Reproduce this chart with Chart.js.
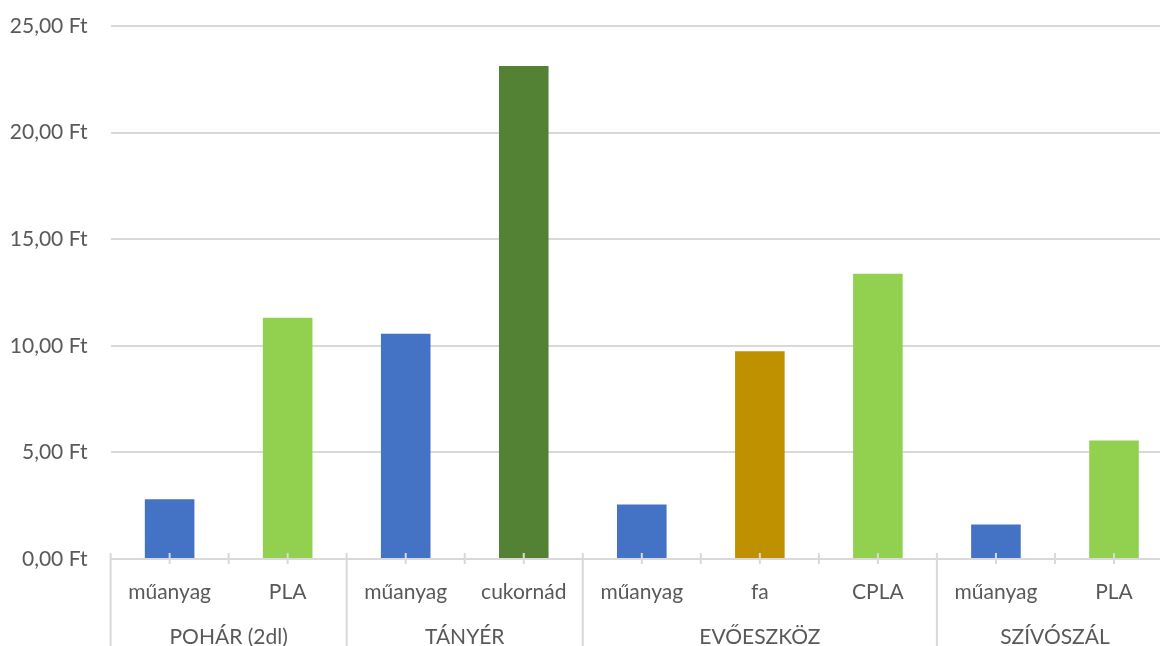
<!DOCTYPE html>
<html>
<head>
<meta charset="utf-8">
<script src="https://cdn.jsdelivr.net/npm/chart.js@4.4.1/dist/chart.umd.min.js"></script>
<style>
  html, body { margin: 0; padding: 0; background: #fff; overflow: hidden; }
  #wrap { width: 1173px; height: 646px; }
</style>
</head>
<body>
<div id="wrap"><canvas id="c" width="1173" height="646"></canvas></div>
<script>
// Unit prices (Ft / piece) of single-use items by material
const categories = ['műanyag', 'PLA', 'műanyag', 'cukornád', 'műanyag', 'fa', 'CPLA', 'műanyag', 'PLA'];
const groups = ['POHÁR (2dl)', 'TÁNYÉR', 'EVŐESZKÖZ', 'SZÍVÓSZÁL'];
const groupSizes = [2, 2, 3, 2];
const prices = [2.80, 11.31, 10.56, 23.12, 2.56, 9.75, 13.38, 1.62, 5.56];
const yMin = 0, yMax = 25, yStep = 5;

// bar fill per material
const materialColors = {
  'műanyag': '#4472C4',
  'PLA': '#92D050',
  'CPLA': '#92D050',
  'cukornád': '#548235',
  'fa': '#BF9000'
};

const FONT = 'Lato, "Noto Sans", sans-serif';
const TEXT = '#595959';
const LINE = '#d9d9d9';

const fmtFt = v => v.toFixed(2).replace('.', ',') + ' Ft';

// two-level category axis: ticks, group separators, labels
const groupAxis = {
  id: 'groupAxis',
  afterDatasetsDraw(chart) {
    const ctx = chart.ctx;
    const xs = chart.scales.x;
    const y0 = chart.scales.y.getPixelForValue(0);
    const bottom = chart.height;
    const half = (xs.getPixelForValue(1) - xs.getPixelForValue(0)) / 2;

    // boundaries that start a new group
    const groupStarts = new Set();
    let acc = 0;
    groupSizes.forEach(n => { groupStarts.add(acc); acc += n; });
    groupStarts.add(acc);

    ctx.save();
    ctx.strokeStyle = LINE;
    ctx.lineWidth = 2;

    for (let i = 0; i <= categories.length; i++) {
      const bx = xs.getPixelForValue(i) - half;
      ctx.beginPath();
      if (groupStarts.has(i)) {
        ctx.moveTo(bx, y0 - 6);
        ctx.lineTo(bx, bottom);
      } else {
        ctx.moveTo(bx, y0 - 6);
        ctx.lineTo(bx, y0 + 5);
      }
      ctx.stroke();
      if (i < categories.length) {
        const cx = xs.getPixelForValue(i);
        ctx.beginPath();
        ctx.moveTo(cx, y0 - 6);
        ctx.lineTo(cx, y0 + 5);
        ctx.stroke();
      }
    }

    ctx.fillStyle = TEXT;
    ctx.font = '21px ' + FONT;
    ctx.textAlign = 'center';
    ctx.textBaseline = 'middle';
    categories.forEach((c, i) => {
      ctx.fillText(c, xs.getPixelForValue(i), y0 + 33);
    });

    let start = 0;
    groups.forEach((g, gi) => {
      const n = groupSizes[gi];
      const left = xs.getPixelForValue(start) - half;
      const right = xs.getPixelForValue(start + n - 1) + half;
      ctx.fillText(g, (left + right) / 2, y0 + 78);
      start += n;
    });
    ctx.restore();
  }
};

new Chart(document.getElementById('c'), {
  type: 'bar',
  data: {
    labels: categories,
    datasets: [{
      data: prices,
      backgroundColor: categories.map(c => materialColors[c]),
      borderWidth: 0,
      barPercentage: 0.42,
      categoryPercentage: 1
    }]
  },
  options: {
    responsive: false,
    animation: false,
    devicePixelRatio: 1,
    layout: { autoPadding: false, padding: { top: 26, right: 0, bottom: 0, left: 0 } },
    plugins: { legend: { display: false }, tooltip: { enabled: false } },
    scales: {
      x: {
        offset: true,
        grid: { display: false },
        border: { display: false },
        ticks: { display: false },
        afterFit: s => { s.height = 87; }
      },
      y: {
        min: yMin,
        max: yMax,
        ticks: {
          stepSize: yStep,
          padding: 0,
          color: TEXT,
          font: { family: FONT, size: 21 },
          callback: v => fmtFt(v)
        },
        // invisible tick marks keep the labels clear of the plot edge
        grid: { color: LINE, lineWidth: 2, drawTicks: true, tickLength: 23, tickColor: 'rgba(0,0,0,0)' },
        border: { display: false },
        afterFit: s => { s.width = 110.6; }
      }
    }
  },
  plugins: [groupAxis]
});
</script>
</body>
</html>
